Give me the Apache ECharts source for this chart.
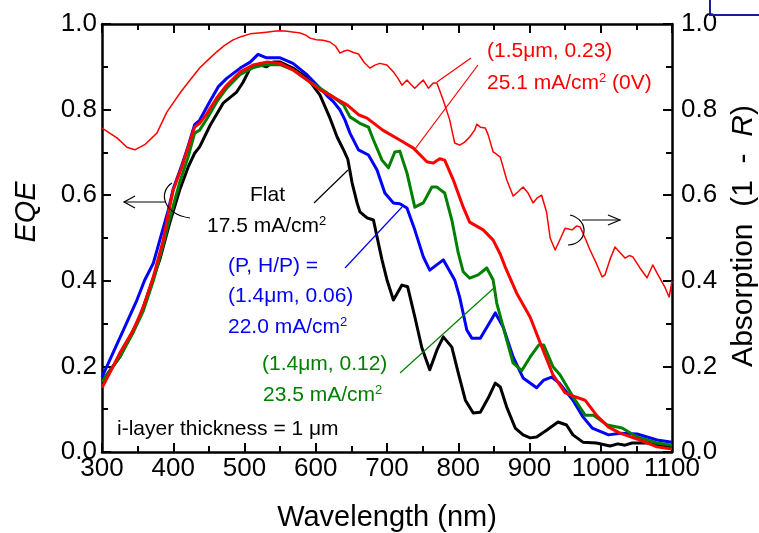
<!DOCTYPE html>
<html>
<head>
<meta charset="utf-8">
<script src="https://cdn.jsdelivr.net/npm/echarts@6/dist/echarts.min.js"></script>
<style>
  html, body { margin: 0; padding: 0; background: #fff; }
  #chart { width: 759px; height: 533px; }
</style>
</head>
<body>
<div id="chart"></div>
<script>
// Wavelength axis (nm) and value-axis ranges
const xRange = { min: 300, max: 1100, step: 100 };
const yRange = { min: 0, max: 1, step: 0.2 };

// EQE of the flat cell (17.5 mA/cm2)
const eqeFlat = [
  [300,0.165],[325,0.222],[353,0.315],[381,0.449],[395,0.535],[409,0.612],[421,0.666],[430,0.698],
  [437,0.713],[452,0.764],[470,0.815],[489,0.841],[498,0.864],[508,0.897],[522,0.904],[531,0.900],
  [540,0.911],[550,0.911],[568,0.897],[588,0.874],[606,0.834],[620,0.780],[630,0.736],[639,0.706],
  [645,0.684],[651,0.629],[658,0.582],[662,0.561],[672,0.547],[681,0.542],[687,0.495],[693,0.449],
  [700,0.402],[709,0.355],[721,0.390],[729,0.386],[739,0.316],[749,0.243],[760,0.192],[770,0.238],
  [779,0.269],[791,0.245],[800,0.185],[810,0.121],[821,0.091],[831,0.093],[842,0.126],[852,0.161],
  [859,0.152],[868,0.105],[880,0.056],[891,0.040],[901,0.033],[910,0.035],[924,0.051],[940,0.070],
  [952,0.063],[961,0.040],[975,0.023],[994,0.021],[1013,0.014],[1024,0.019],[1034,0.016],[1044,0.021],
  [1065,0.021],[1079,0.016],[1100,0.012]
];

// EQE, texture (1.4 um, 0.06), 22.0 mA/cm2
const eqeP006 = [
  [300,0.175],[311,0.215],[330,0.285],[349,0.355],[360,0.402],[372,0.441],[384,0.512],[393,0.565],
  [400,0.615],[412,0.670],[421,0.715],[430,0.765],[437,0.775],[450,0.815],[463,0.853],[475,0.873],
  [494,0.897],[508,0.911],[519,0.929],[531,0.921],[550,0.921],[568,0.908],[588,0.881],[606,0.850],
  [615,0.834],[625,0.818],[634,0.799],[641,0.776],[648,0.745],[660,0.706],[674,0.694],[686,0.659],
  [697,0.605],[709,0.582],[718,0.580],[728,0.570],[739,0.519],[751,0.456],[760,0.425],[779,0.449],
  [795,0.402],[802,0.362],[812,0.285],[819,0.266],[831,0.266],[852,0.325],[863,0.292],[877,0.222],
  [891,0.173],[910,0.150],[920,0.168],[931,0.175],[942,0.161],[961,0.121],[975,0.082],[988,0.056],
  [1011,0.040],[1027,0.044],[1051,0.042],[1065,0.035],[1079,0.028],[1100,0.023]
];

// EQE, texture (1.4 um, 0.12), 23.5 mA/cm2
const eqeP012 = [
  [300,0.164],[325,0.222],[344,0.280],[358,0.330],[372,0.400],[386,0.485],[395,0.545],[409,0.630],
  [421,0.690],[430,0.745],[437,0.752],[447,0.778],[461,0.818],[475,0.850],[494,0.882],[512,0.898],
  [531,0.905],[550,0.905],[568,0.893],[588,0.869],[606,0.850],[625,0.829],[639,0.811],[648,0.783],
  [662,0.768],[674,0.759],[681,0.729],[693,0.682],[702,0.664],[711,0.701],[718,0.703],[728,0.652],
  [739,0.572],[751,0.582],[763,0.619],[770,0.619],[781,0.605],[791,0.542],[800,0.465],[807,0.421],
  [816,0.406],[828,0.414],[840,0.430],[849,0.402],[854,0.348],[868,0.262],[877,0.208],[889,0.190],
  [901,0.222],[913,0.250],[920,0.250],[933,0.199],[943,0.180],[961,0.129],[978,0.086],[990,0.086],
  [1009,0.063],[1030,0.056],[1051,0.035],[1079,0.021],[1100,0.016]
];

// EQE, texture (1.5 um, 0.23), 25.1 mA/cm2 at 0 V
const eqeP023 = [
  [300,0.150],[311,0.185],[325,0.231],[344,0.285],[358,0.339],[372,0.409],[386,0.495],[393,0.558],
  [400,0.612],[412,0.666],[421,0.713],[430,0.759],[437,0.768],[447,0.790],[461,0.827],[475,0.857],
  [494,0.888],[512,0.904],[531,0.911],[550,0.908],[568,0.893],[588,0.869],[606,0.846],[625,0.829],
  [644,0.811],[660,0.788],[672,0.780],[694,0.752],[718,0.729],[737,0.710],[756,0.678],[765,0.675],
  [774,0.685],[781,0.682],[793,0.636],[807,0.572],[816,0.537],[835,0.519],[849,0.495],[859,0.462],
  [866,0.432],[882,0.371],[901,0.315],[915,0.255],[933,0.180],[950,0.138],[964,0.129],[978,0.121],
  [994,0.086],[1011,0.058],[1027,0.044],[1055,0.028],[1079,0.012],[1100,0.007]
];

// Absorption (1 - R) of the (1.5 um, 0.23) texture, right axis
const absP023 = [
  [300,0.757],[321,0.734],[335,0.712],[346,0.706],[360,0.718],[377,0.745],[391,0.794],[410,0.840],
  [425,0.872],[437,0.897],[450,0.918],[461,0.935],[472,0.950],[484,0.963],[496,0.971],[508,0.977],
  [520,0.979],[531,0.981],[541,0.983],[550,0.984],[560,0.983],[570,0.981],[578,0.979],[586,0.974],
  [592,0.967],[601,0.963],[610,0.962],[620,0.958],[628,0.948],[634,0.932],[640,0.937],[645,0.939],
  [652,0.934],[660,0.930],[668,0.910],[676,0.897],[683,0.904],[690,0.908],[700,0.904],[709,0.888],
  [715,0.874],[721,0.857],[728,0.869],[734,0.858],[739,0.850],[745,0.860],[751,0.869],[758,0.850],
  [765,0.862],[770,0.862],[779,0.822],[788,0.776],[795,0.722],[802,0.717],[809,0.724],[816,0.736],
  [823,0.752],[826,0.766],[831,0.759],[838,0.757],[842,0.741],[849,0.701],[852,0.698],[859,0.689],
  [868,0.636],[877,0.598],[884,0.608],[891,0.619],[898,0.605],[905,0.582],[911,0.594],[917,0.600],
  [924,0.560],[929,0.500],[936,0.472],[943,0.497],[950,0.523],[955,0.521],[960,0.519],[966,0.528],
  [971,0.526],[978,0.500],[985,0.472],[994,0.440],[1002,0.409],[1006,0.414],[1013,0.450],[1020,0.479],
  [1027,0.466],[1034,0.453],[1040,0.459],[1045,0.456],[1055,0.430],[1065,0.407],[1073,0.437],
  [1080,0.415],[1090,0.385],[1096,0.362],[1100,0.400]
];

const FONT = '"Liberation Sans", Arial, sans-serif';
const chart = echarts.init(document.getElementById('chart'), null, { renderer: 'canvas' });

function axisStyle(showLabel, pos, margin, fmt) {
  return {
    position: pos,
    axisLine: { show: true, onZero: false, lineStyle: { color: '#000', width: 2.5 } },
    axisTick: { show: true, inside: true, length: 9, lineStyle: { color: '#000', width: 2 } },
    minorTick: { show: true, splitNumber: 2, length: 6, lineStyle: { color: '#000', width: 2 } },
    splitLine: { show: false },
    minorSplitLine: { show: false },
    axisLabel: { show: showLabel, color: '#000', fontSize: 26, fontFamily: FONT, margin: margin, formatter: fmt }
  };
}

const xBase = { type: 'value', min: xRange.min, max: xRange.max, interval: xRange.step };
const yBase = { type: 'value', min: yRange.min, max: yRange.max, interval: yRange.step };
const xFmt = v => String(Math.round(v));
const yFmt = v => v.toFixed(1);

function line(data, color, width, yIdx, z) {
  return {
    type: 'line', data: data, xAxisIndex: 0, yAxisIndex: yIdx, showSymbol: false, symbol: 'none',
    smooth: false, z: z, lineStyle: { color: color, width: width, join: 'round' }, silent: true, animation: false
  };
}

function txt(x, y, text, color, size, rich, align) {
  const style = { text: text, fill: color, fontSize: size, fontFamily: FONT, align: align || 'left', verticalAlign: 'middle' };
  if (rich) style.rich = rich;
  return { type: 'text', x: x, y: y, z: 100, silent: true, style: style };
}

function seg(points, color, width) {
  return { type: 'polyline', z: 100, silent: true, shape: { points: points },
    style: { stroke: color, lineWidth: width, fill: null } };
}

function bracket(x1, y1, cx1, cy1, cx2, cy2, x2, y2) {
  return { type: 'bezierCurve', z: 100, silent: true,
    shape: { x1: x1, y1: y1, cpx1: cx1, cpy1: cy1, cpx2: cx2, cpy2: cy2, x2: x2, y2: y2 },
    style: { stroke: '#000', lineWidth: 1.2, fill: null } };
}

const supRich = (color) => ({
  n: { fontSize: 21, fontFamily: FONT, color: color },
  s: { fontSize: 13, fontFamily: FONT, color: color, padding: [0, 0, 10, 0] }
});

chart.setOption({
  animation: false,
  backgroundColor: '#fff',
  grid: { left: 102, right: 87, top: 24, bottom: 81, containLabel: false },
  xAxis: [
    Object.assign({}, xBase, axisStyle(true, 'bottom', 4, xFmt)),
    Object.assign({}, xBase, axisStyle(false, 'top', 4, xFmt))
  ],
  yAxis: [
    Object.assign({}, yBase, axisStyle(true, 'left', 5, yFmt)),
    Object.assign({}, yBase, axisStyle(true, 'right', 9, yFmt))
  ],
  series: [
    line(absP023, '#ff0000', 1.5, 1, 2),
    line(eqeFlat, '#000000', 3, 0, 3),
    line(eqeP006, '#0000ff', 3, 0, 4),
    line(eqeP012, '#008000', 3, 0, 5),
    line(eqeP023, '#ff0000', 3, 0, 6)
  ],
  graphic: [
    // axis titles
    txt(387, 518, 'Wavelength (nm)', '#000', 29, null, 'center'),
    { type: 'text', x: 27, y: 212, rotation: Math.PI / 2, z: 100, silent: true,
      style: { text: 'EQE', fill: '#000', fontSize: 29, fontStyle: 'italic', fontFamily: FONT, align: 'center', verticalAlign: 'middle' } },
    { type: 'text', x: 744, y: 236, rotation: Math.PI / 2, z: 100, silent: true,
      style: { text: '{n|Absorption  (1  -  }{i|R}{n|)}', fill: '#000', align: 'center', verticalAlign: 'middle',
        rich: { n: { fontSize: 30, fontFamily: FONT, color: '#000' }, i: { fontSize: 30, fontFamily: FONT, fontStyle: 'italic', color: '#000' } } } },

    // flat cell label
    txt(250, 195, 'Flat', '#000', 21),
    txt(207, 226, '{n|17.5 mA/cm}{s|2}', '#000', 21, supRich('#000')),
    seg([[314, 203], [348, 170]], '#000', 1.2),

    // (1.4 um, 0.06) label
    txt(228, 266, '(P, H/P) =', '#0000ff', 21),
    txt(228, 296, '(1.4\u03bcm, 0.06)', '#0000ff', 21),
    txt(228, 327, '{n|22.0 mA/cm}{s|2}', '#0000ff', 21, supRich('#0000ff')),
    seg([[345, 268], [402, 207]], '#0000ff', 1.2),

    // (1.4 um, 0.12) label
    txt(262, 364, '(1.4\u03bcm, 0.12)', '#008000', 21),
    txt(263, 395, '{n|23.5 mA/cm}{s|2}', '#008000', 21, supRich('#008000')),
    seg([[400, 373], [495, 287]], '#008000', 1.2),

    // (1.5 um, 0.23) label
    txt(487, 51, '(1.5\u03bcm, 0.23)', '#ff0000', 21),
    txt(487, 83, '{n|25.1 mA/cm}{s|2}{n| (0V)}', '#ff0000', 21, supRich('#ff0000')),
    seg([[471, 58], [437, 82]], '#ff0000', 1.2),
    seg([[478, 65], [415, 149]], '#ff0000', 1.2),

    // thickness note
    txt(117, 429, 'i-layer thickness = 1 \u03bcm', '#000', 21),

    // left-axis pointer
    bracket(172, 183, 158, 192, 163, 214, 190, 218),
    seg([[166, 202], [124, 202]], '#000', 1.2),
    seg([[135, 196], [124, 202], [135, 208]], '#000', 1.2),

    // right-axis pointer
    bracket(570, 215, 590, 220, 588, 244, 568, 245),
    seg([[582, 220], [620, 220]], '#000', 1.2),
    seg([[608, 215], [620, 220], [608, 225]], '#000', 1.2),

    // frame corner at the top right
    seg([[710, 0], [710, 15], [759, 15]], '#1a1a9a', 2)
  ]
});
</script>
</body>
</html>
